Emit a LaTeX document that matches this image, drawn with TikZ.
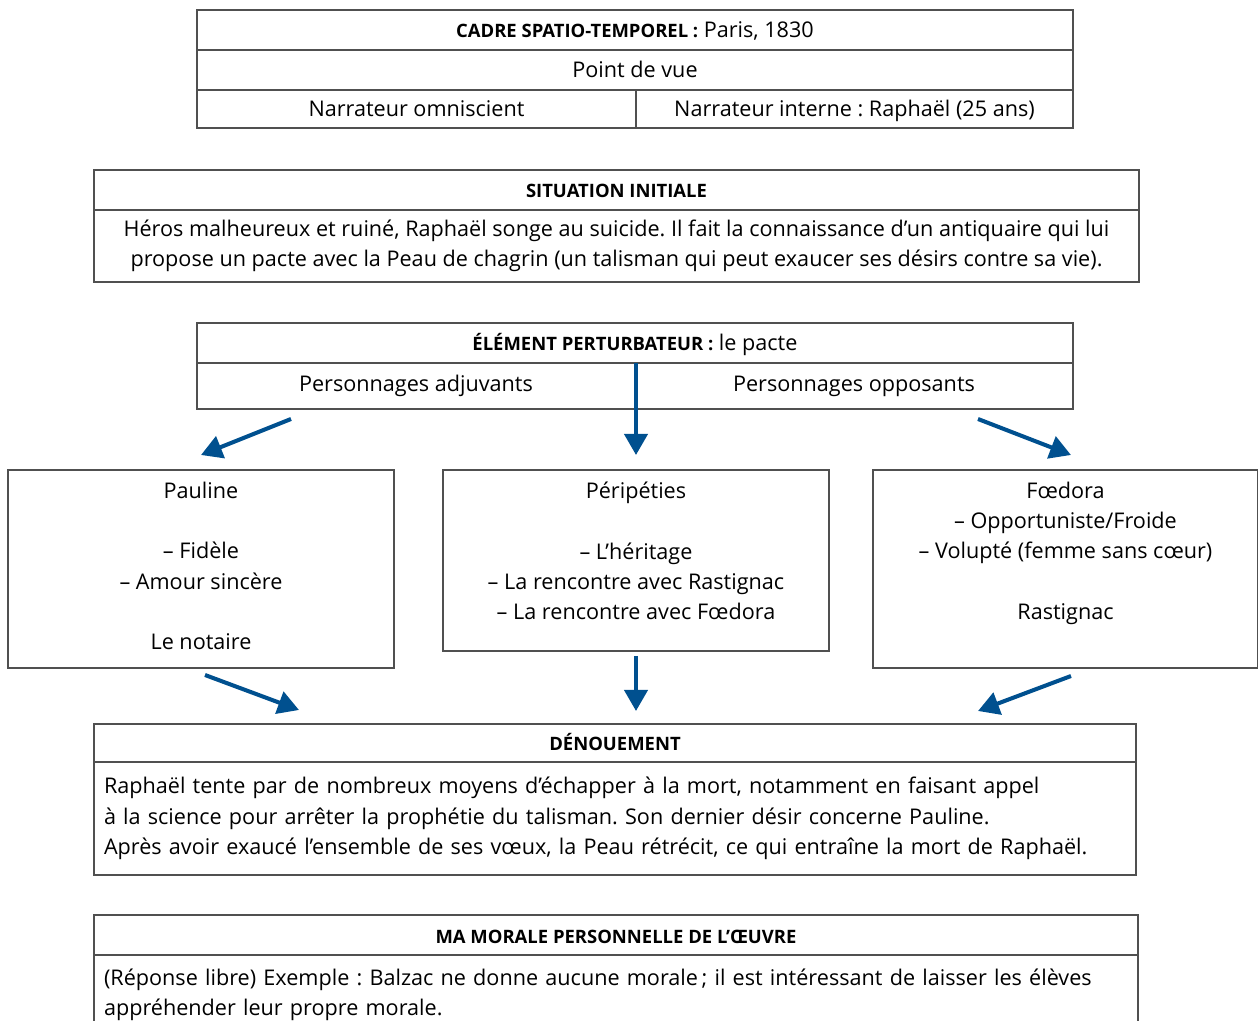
\documentclass[tikz,border=0pt]{standalone}
\usepackage{fontspec}
\setmainfont{Open Sans}
\usepackage{xcolor}
\usetikzlibrary{positioning,arrows.meta}

\definecolor{flowblue}{HTML}{00508F}
\definecolor{framegray}{HTML}{505050}
\newcommand{\hd}[1]{{\fontsize{10.5}{12}\selectfont\bfseries #1}}

\tikzset{
  cell/.style={draw=framegray, line width=0.8pt, rectangle, outer sep=0pt, inner sep=0pt,
    font=\fontsize{12.3}{17.25}\selectfont},
  row/.style={cell, text height=0.42cm, text depth=0.1cm},
  head/.style={row, font=\fontsize{10.5}{12}\selectfont\bfseries},
  chartext/.style={align=center, inner sep=0pt, font=\fontsize{12.3}{17.25}\selectfont},
  flow/.style={draw=flowblue, line width=2.3pt, -{Triangle[length=0.42cm,width=0.46cm]}}
}

\begin{document}
\frenchspacing
\begin{tikzpicture}
  \useasboundingbox (0,0) rectangle (25.16,-20.42);

  % cadre et point de vue
  \node (cadre) [row, minimum width=17.52cm, minimum height=0.8cm] at (12.70,-0.6) {\hd{CADRE SPATIO-TEMPOREL :} Paris, 1830};
  \node (vue) [row, minimum width=17.52cm, minimum height=0.8cm, below=0pt of cadre] {Point de vue};
  \node (omni) [row, minimum width=8.78cm, minimum height=0.76cm, below=0pt of vue.south west, anchor=north west] {Narrateur omniscient};
  \node (interne) [row, minimum width=8.74cm, minimum height=0.76cm, right=0pt of omni] {Narrateur interne : Raphaël (25 ans)};

  % situation initiale
  \node (sit) [head, minimum width=20.9cm, minimum height=0.8cm] at (12.33,-3.8) {SITUATION INITIALE};
  \node (sitbody) [cell, minimum width=20.9cm, minimum height=1.44cm, align=center, below=0pt of sit]
    {Héros malheureux et ruiné, Raphaël songe au suicide. Il fait la connaissance d’un antiquaire qui lui\\
     propose un pacte avec la Peau de chagrin (un talisman qui peut exaucer ses désirs contre sa vie).};

  % element perturbateur
  \node (pert) [row, minimum width=17.52cm, minimum height=0.8cm] at (12.70,-6.86) {\hd{ÉLÉMENT PERTURBATEUR :} le pacte};
  \node (pertrow) [cell, minimum width=17.52cm, minimum height=0.92cm, below=0pt of pert] {};
  \node (adjuvants) [chartext] at (8.32,-7.72) {Personnages adjuvants};
  \node (opposants) [chartext] at (17.08,-7.72) {Personnages opposants};

  % personnages et peripeties
  \node (pauline) [cell, minimum width=7.72cm, minimum height=3.96cm, anchor=north] at (4.02,-9.4) {};
  \node (peri) [cell, minimum width=7.72cm, minimum height=3.62cm, anchor=north] at (12.72,-9.4) {};
  \node (foedora) [cell, minimum width=7.70cm, minimum height=3.96cm, anchor=north] at (21.31,-9.4) {};

  \node (paulinetxt) [chartext, below=0.23cm of pauline.north]
    {Pauline\\[17.25pt] – Fidèle\\ – Amour sincère\\[17.25pt] Le notaire};
  \node (peritxt) [chartext, below=0.23cm of peri.north]
    {Péripéties\\[17.25pt] – L’héritage\\ – La rencontre avec Rastignac\\ – La rencontre avec Fœdora};
  \node (foedoratxt) [chartext, below=0.23cm of foedora.north]
    {Fœdora\\ – Opportuniste/Froide\\ – Volupté (femme sans cœur)\\[17.25pt] Rastignac};

  % denouement
  \node (denoue) [head, minimum width=20.84cm, minimum height=0.76cm, anchor=north] at (12.30,-14.48) {DÉNOUEMENT};
  \node (denbody) [cell, minimum width=20.84cm, minimum height=2.26cm, text width=20.44cm, align=left, below=0pt of denoue]
    {Raphaël tente par de nombreux moyens d’échapper à la mort, notamment en faisant appel\\
     à la science pour arrêter la prophétie du talisman. Son dernier désir concerne Pauline.\\
     Après avoir exaucé l’ensemble de ses vœux, la Peau rétrécit, ce qui entraîne la mort de Raphaël.};

  % morale
  \node (morale) [head, minimum width=20.88cm, minimum height=0.8cm, anchor=north] at (12.32,-18.3) {MA MORALE PERSONNELLE DE L’ŒUVRE};
  \node (morbody) [cell, minimum width=20.88cm, minimum height=1.6cm, text width=20.48cm, align=left, below=0pt of morale]
    {(Réponse libre) Exemple : Balzac ne donne aucune morale\,; il est intéressant de laisser les élèves\\
     appréhender leur propre morale.};

  % fleches
  \coordinate (adjfoot) at (5.82,-8.38);
  \coordinate (oppfoot) at (19.56,-8.38);
  \coordinate (paultip) at (5.98,-14.2);
  \coordinate (peritip) at (12.72,-14.22);
  \coordinate (foedtip) at (19.56,-14.22);

  \draw[flow] (adjfoot) -- ([yshift=0.3cm]pauline.north);
  \draw[flow] (pert.south -| peri.north) -- ([yshift=0.3cm]peri.north);
  \draw[flow] (oppfoot) -- ([shift={(0.11,0.3)}]foedora.north);

  \draw[flow] ([shift={(0.08,-0.14)}]pauline.south) -- (paultip);
  \draw[flow] ([yshift=-0.1cm]peri.south) -- (peritip);
  \draw[flow] ([shift={(0.11,-0.16)}]foedora.south) -- (foedtip);
\end{tikzpicture}
\end{document}
